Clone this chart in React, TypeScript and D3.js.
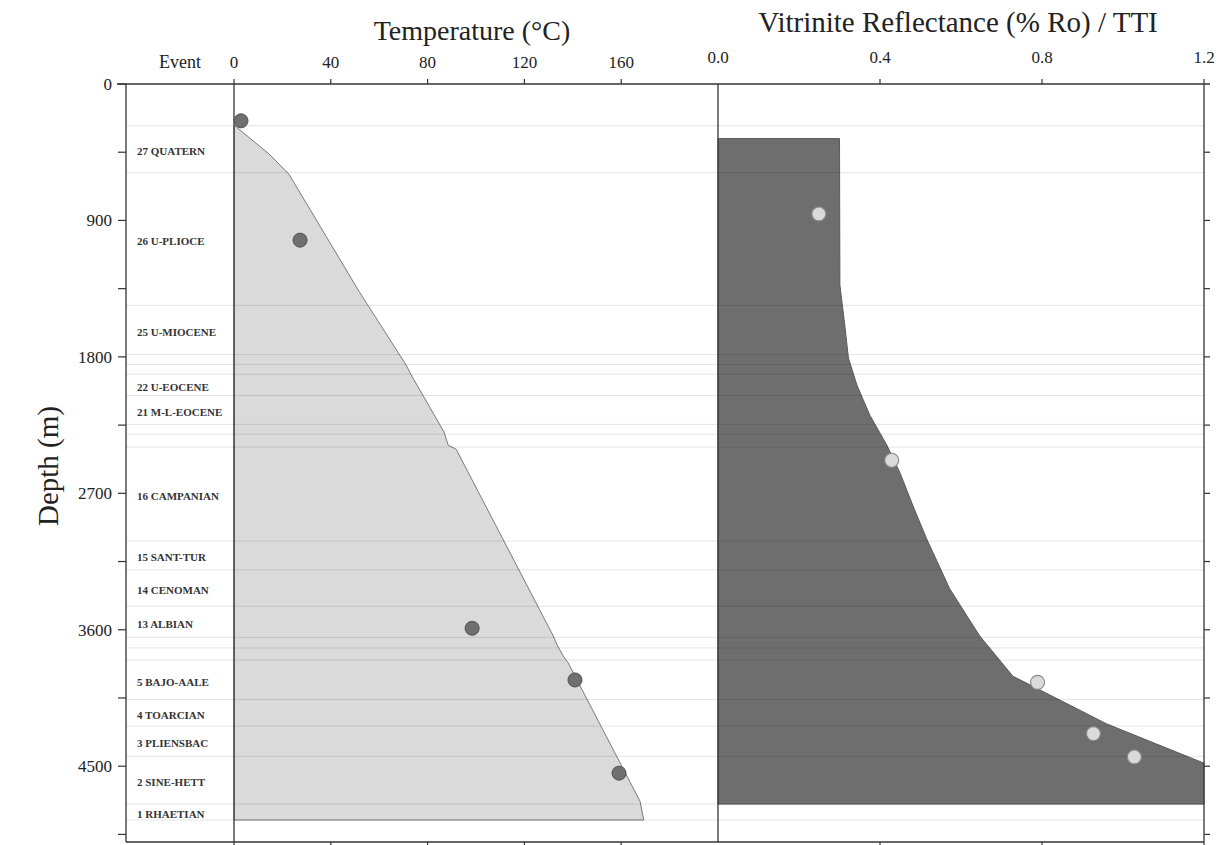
import * as d3 from "d3";

// formation boundaries (m), drawn as faint horizontal lines
const boundaries = [
  275, 585, 1460, 1785, 1850, 1915, 2055, 2245, 2310, 2395, 3015, 3205, 3445,
  3650, 3720, 3800, 4060, 4235, 4435, 4750, 4855,
];

// labelled events: name + top/base depth of the layer
const events = [
  { name: "27 QUATERN", top: 275, base: 585 },
  { name: "26 U-PLIOCE", top: 585, base: 1460 },
  { name: "25 U-MIOCENE", top: 1460, base: 1785 },
  { name: "22 U-EOCENE", top: 1915, base: 2055 },
  { name: "21 M-L-EOCENE", top: 2055, base: 2245 },
  { name: "16 CAMPANIAN", top: 2395, base: 3015 },
  { name: "15 SANT-TUR", top: 3015, base: 3205 },
  { name: "14 CENOMAN", top: 3205, base: 3445 },
  { name: "13 ALBIAN", top: 3445, base: 3650 },
  { name: "5 BAJO-AALE", top: 3800, base: 4060 },
  { name: "4 TOARCIAN", top: 4060, base: 4235 },
  { name: "3 PLIENSBAC", top: 4235, base: 4435 },
  { name: "2 SINE-HETT", top: 4435, base: 4750 },
  { name: "1 RHAETIAN", top: 4750, base: 4855 },
];

// modelled temperature profile (°C vs depth m)
const tempProfile = [
  { depth: 276, temp: 0.4 },
  { depth: 462, temp: 14.5 },
  { depth: 595, temp: 22.7 },
  { depth: 1369, temp: 51.7 },
  { depth: 1853, temp: 71.1 },
  { depth: 1919, temp: 73.2 },
  { depth: 2296, temp: 86.8 },
  { depth: 2382, temp: 88.5 },
  { depth: 2409, temp: 91.8 },
  { depth: 3640, temp: 131.9 },
  { depth: 3699, temp: 133.5 },
  { depth: 3772, temp: 136.0 },
  { depth: 3819, temp: 138.1 },
  { depth: 4732, temp: 167.8 },
  { depth: 4855, temp: 169.3 },
];

// measured temperatures
const tempObs = [
  { depth: 243, temp: 2.9 },
  { depth: 1030, temp: 27.3 },
  { depth: 3590, temp: 98.4 },
  { depth: 3931, temp: 140.9 },
  { depth: 4546, temp: 159.1 },
];

// modelled vitrinite reflectance (%Ro)
const vitProfile = [
  { depth: 360, ro: 0.3 },
  { depth: 1326, ro: 0.301 },
  { depth: 1590, ro: 0.313 },
  { depth: 1808, ro: 0.322 },
  { depth: 1986, ro: 0.343 },
  { depth: 2185, ro: 0.375 },
  { depth: 2383, ro: 0.417 },
  { depth: 2562, ro: 0.449 },
  { depth: 2780, ro: 0.481 },
  { depth: 2999, ro: 0.515 },
  { depth: 3329, ro: 0.572 },
  { depth: 3640, ro: 0.646 },
  { depth: 3906, ro: 0.728 },
  { depth: 4019, ro: 0.811 },
  { depth: 4220, ro: 0.959 },
  { depth: 4354, ro: 1.083 },
  { depth: 4480, ro: 1.2 },
  { depth: 4750, ro: 1.2 },
];

// measured vitrinite reflectance
const vitObs = [
  { depth: 857, ro: 0.249 },
  { depth: 2482, ro: 0.429 },
  { depth: 3947, ro: 0.789 },
  { depth: 4285, ro: 0.927 },
  { depth: 4439, ro: 1.028 },
];

const tempTicks = [0, 40, 80, 120, 160];
const vitTicks = [0.4, 0.8, 1.2];
const depthLabels = [0, 900, 1800, 2700, 3600, 4500];
const depthTicks = d3.range(0, 5000, 450);

const W = 1221;
const H = 845;
const FONT = "'Liberation Serif', 'DejaVu Serif', serif";

export default function App() {
  const left = 126;
  const right = 1204;

  const y = d3.scaleLinear().domain([0, 5000]).range([84, 842]);
  const xT = d3.scaleLinear().domain([0, 200]).range([234, 718]);
  const xV = d3.scaleLinear().domain([0, 1.2]).range([718, 1204]);

  const top = y(0);
  const bottom = y(5000);

  const tempArea = d3
    .area<{ depth: number; temp: number }>()
    .y((d) => y(d.depth))
    .x0(xT(0))
    .x1((d) => xT(d.temp))
    .curve(d3.curveLinear);

  const vitArea = d3
    .area<{ depth: number; ro: number }>()
    .y((d) => y(d.depth))
    .x0(xV(0))
    .x1((d) => xV(d.ro))
    .curve(d3.curveLinear);

  return (
    <svg
      width={W}
      height={H}
      style={{ position: "absolute", left: 0, top: 0, background: "#fff" }}
      fontFamily={FONT}
    >
      {/* titles */}
      <text x={472} y={40} fontSize={28} textAnchor="middle" fill="#222">
        Temperature (°C)
      </text>
      <text x={958} y={32} fontSize={29} textAnchor="middle" fill="#222">
        Vitrinite Reflectance (% Ro) / TTI
      </text>
      <text
        transform={`translate(58,${(top + bottom) / 2 + 3}) rotate(-90)`}
        fontSize={29}
        textAnchor="middle"
        fill="#222"
      >
        Depth (m)
      </text>

      {/* fills */}
      <path d={tempArea(tempProfile) || ""} fill="#dadada" stroke="#7a7a7a" strokeWidth={1} />
      <path d={vitArea(vitProfile) || ""} fill="#6e6e6e" stroke="#5a5a5a" strokeWidth={1} />

      {/* boundary lines */}
      <g stroke="#000" strokeOpacity={0.11} strokeWidth={1}>
        {boundaries.map((b) => (
          <line key={b} x1={left} x2={right} y1={y(b)} y2={y(b)} />
        ))}
      </g>

      {/* event labels */}
      <g fontSize={11} fontWeight="bold" fill="#333">
        {events.map((e) => (
          <text key={e.name} x={137} y={y((e.top + e.base) / 2) + 6}>
            {e.name}
          </text>
        ))}
      </g>

      {/* frame */}
      <g stroke="#333" strokeWidth={1.3} fill="none">
        <line x1={left - 9} x2={right + 6} y1={top} y2={top} />
        <line x1={left} x2={right} y1={bottom} y2={bottom} />
        <line x1={left} x2={left} y1={top} y2={bottom} />
        <line x1={right} x2={right} y1={top} y2={bottom} />
        <line x1={xT(0)} x2={xT(0)} y1={top} y2={bottom} />
        <line x1={xV(0)} x2={xV(0)} y1={top} y2={bottom} />
      </g>

      {/* depth ticks */}
      <g stroke="#333" strokeWidth={1.2}>
        {depthTicks.map((d) => (
          <line key={"l" + d} x1={left - 8} x2={left} y1={y(d)} y2={y(d)} />
        ))}
        {depthTicks.slice(1).map((d) => (
          <line key={"r" + d} x1={right} x2={right + 6} y1={y(d)} y2={y(d)} />
        ))}
      </g>
      <g fontSize={17} fill="#222" textAnchor="end">
        {depthLabels.map((d) => (
          <text key={d} x={112} y={y(d) + 6}>
            {d}
          </text>
        ))}
      </g>

      {/* top and bottom x ticks */}
      <g stroke="#333" strokeWidth={1.2}>
        {tempTicks.map((t) => (
          <g key={"t" + t}>
            <line x1={xT(t)} x2={xT(t)} y1={top - 5} y2={top} />
            <line x1={xT(t)} x2={xT(t)} y1={bottom} y2={bottom + 5} />
          </g>
        ))}
        {vitTicks.map((t) => (
          <g key={"v" + t}>
            <line x1={xV(t)} x2={xV(t)} y1={top - 5} y2={top} />
            <line x1={xV(t)} x2={xV(t)} y1={bottom} y2={bottom + 5} />
          </g>
        ))}
      </g>
      <g fontSize={17} fill="#222" textAnchor="middle">
        <text x={180} y={68} fontSize={18}>
          Event
        </text>
        {tempTicks.map((t) => (
          <text key={"tl" + t} x={xT(t)} y={68}>
            {t}
          </text>
        ))}
        <text x={xV(0)} y={63}>
          {"0.0"}
        </text>
        {vitTicks.map((t) => (
          <text key={"vl" + t} x={xV(t)} y={63}>
            {t.toFixed(1)}
          </text>
        ))}
      </g>

      {/* observations */}
      <g fill="#6f6f6f" stroke="#4f4f4f" strokeWidth={1}>
        {tempObs.map((d, i) => (
          <circle key={i} cx={xT(d.temp)} cy={y(d.depth)} r={7} />
        ))}
      </g>
      <g fill="#dadada" stroke="#8a8a8a" strokeWidth={1.2}>
        {vitObs.map((d, i) => (
          <circle key={i} cx={xV(d.ro)} cy={y(d.depth)} r={7} />
        ))}
      </g>
    </svg>
  );
}
